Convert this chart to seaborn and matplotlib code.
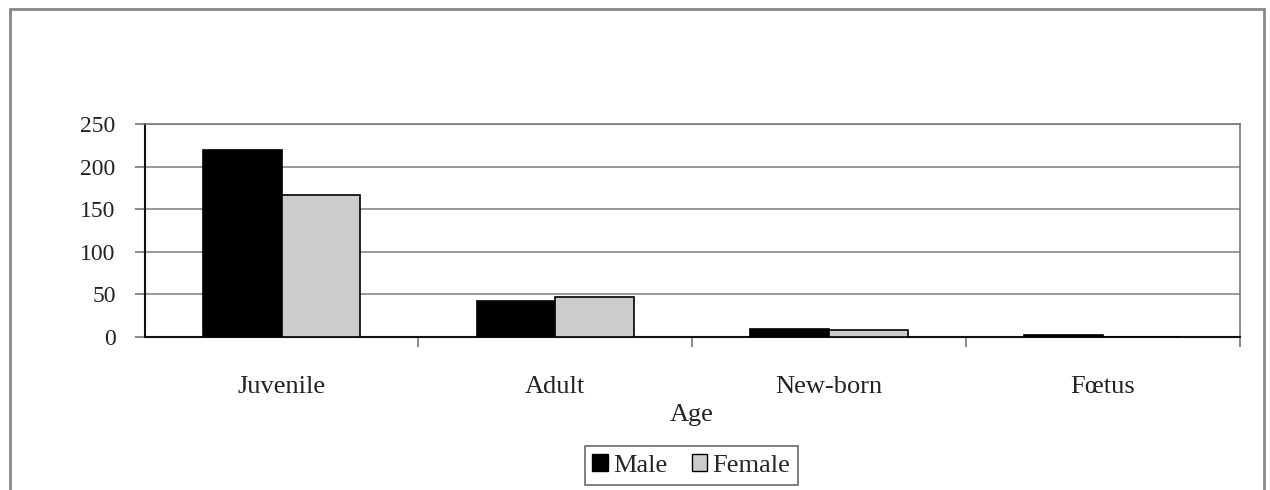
import pandas as pd
import matplotlib.pyplot as plt
import seaborn as sns
from matplotlib.lines import Line2D
from matplotlib.patches import Patch

# data
ages = ['Juvenile', 'Adult', 'New-born', 'Fœtus']
male = [220, 42, 10, 2]
female = [167, 47, 8, 0]

df = pd.DataFrame({
    'Age': ages * 2,
    'Sex': ['Male'] * len(ages) + ['Female'] * len(ages),
    'Count': male + female,
})

sns.set_style('white')
plt.rcParams['font.family'] = ['Liberation Serif', 'DejaVu Serif']

fig = plt.figure(figsize=(12.7, 4.9), dpi=100)
ax = fig.add_axes([0.114, 0.312, 0.862, 0.435])

palette = {'Male': '#000000', 'Female': '#cccccc'}
sns.barplot(data=df, x='Age', y='Count', hue='Sex', order=ages,
            hue_order=['Male', 'Female'], palette=palette, width=0.575,
            edgecolor='black', linewidth=1.2, saturation=1, ax=ax,
            legend=False, zorder=3)

ax.set_ylim(0, 250)
ax.set_xlim(-0.5, 3.5)
ax.set_yticks(range(0, 251, 50))
ax.yaxis.grid(True, color='#888888', linewidth=1.2, zorder=0)
ax.set_axisbelow(True)
for side in ['left', 'bottom']:
    ax.spines[side].set_color('#111111')
    ax.spines[side].set_linewidth(1.5)
for side in ['top', 'right']:
    ax.spines[side].set_color('#777777')
    ax.spines[side].set_linewidth(1.2)

# category ticks sit between the groups
ax.set_xticks([0.5, 1.5, 2.5, 3.5], minor=False)
ax.set_xticklabels([])
ax.set_xticks(range(len(ages)), minor=True)
ax.set_xticklabels(ages, minor=True)
ax.tick_params(axis='x', which='major', direction='out', length=7,
               width=1.2, color='#777777', bottom=True)
ax.tick_params(axis='x', which='minor', length=0, pad=28, labelsize=19,
               bottom=True)
ax.tick_params(axis='y', direction='out', length=7, width=1.2,
               color='#777777', left=True, labelsize=17, pad=14)
for lab in ax.get_xticklabels(minor=True) + ax.get_yticklabels():
    lab.set_color('#222222')

ax.set_xlabel('Age', fontsize=19, color='#222222', labelpad=4)
ax.set_ylabel('')

handles = [Patch(facecolor=palette[s], edgecolor='black', label=s)
           for s in ['Male', 'Female']]
leg = fig.legend(handles=handles, loc='center', bbox_to_anchor=(0.5445, 0.05),
                 ncol=2, fontsize=19, frameon=True, fancybox=False,
                 edgecolor='#444444', handlelength=0.6, handleheight=0.6,
                 handletextpad=0.2, columnspacing=0.9, borderpad=0.3)
leg.get_frame().set_linewidth(1.2)

# outer chart frame
for xs, ys in [([0.0075, 0.0075], [0.0, 0.982]),
               ([0.0075, 0.995], [0.982, 0.982]),
               ([0.995, 0.995], [0.0, 0.982])]:
    fig.add_artist(Line2D(xs, ys, color='#888888', linewidth=2,
                          transform=fig.transFigure))

fig.savefig('out.png', dpi=100)
